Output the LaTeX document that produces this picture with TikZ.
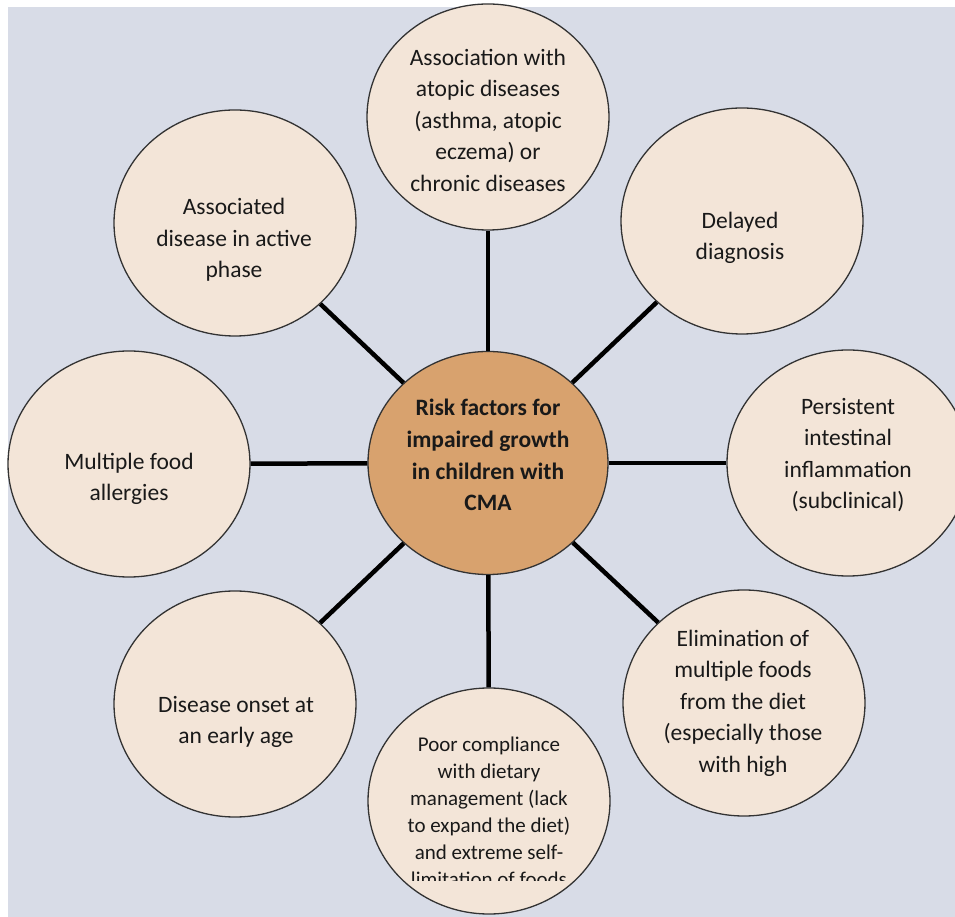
\documentclass[tikz,border=0pt]{standalone}
\usepackage{fontspec}
\setmainfont{Carlito}
\usetikzlibrary{shapes.geometric}
\definecolor{paneblue}{HTML}{D8DCE7}
\definecolor{bubblebeige}{HTML}{F3E5D8}
\definecolor{hubtan}{HTML}{D8A26E}
\begin{document}
\begin{tikzpicture}[x=1pt, y=1pt, line join=round, font=\fontsize{23.5}{31.5}\selectfont]
				\tikzset{bubble/.style={ellipse, draw=black!80, line width=1.3pt, fill=bubblebeige, minimum width=242pt, minimum height=226pt, inner sep=0pt},
					hub/.style={bubble, fill=hubtan, minimum width=240pt, minimum height=223pt},
					txt/.style={align=center, text=black!90, inner sep=0pt},
					spoke/.style={line width=4.5pt, line cap=butt}}
				\useasboundingbox (-488,-454) rectangle (467,463);
				\fill[white] (-488,-454) rectangle (467,463);
				\fill[paneblue] (-480,-454) rectangle (467,456);
				% the eight outer bubbles and the hub
				\node[hub] (risk) at (0,0) {};
				\node[bubble] (atopic) at (0,346) {};
				\node[bubble] (delayed) at (254,242) {};
				\node[bubble] (persist) at (360,0) {};
				\node[bubble] (elim) at (256,-240) {};
				\node[bubble] (poor) at (1,-338) {};
				\node[bubble] (onset) at (-253,-241) {};
				\node[bubble] (multi) at (-359,-1) {};
				\node[bubble] (assoc) at (-253,240) {};
				\foreach\n in {atopic,delayed,persist,elim,poor,onset,multi,assoc} \draw[spoke] (risk)--(\n);
				% texts
				\node[txt, font=\fontsize{23.5}{31.7}\selectfont\bfseries] (risk-t) at (0,8) {Risk factors for\\impaired growth\\in children with\\CMA};
				\node[txt] (atopic-t) at (0,343) {Association with\\atopic diseases\\(asthma, atopic\\eczema) or\\chronic diseases};
				\node[txt] (delayed-t) at (252,225) {Delayed\\diagnosis};
				\node[txt] (persist-t) at (360,8) {Persistent\\intestinal\\inflammation\\(subclinical)};
				\node[txt] (elim-t) at (255,-240) {Elimination of\\multiple foods\\from the diet\\(especially those\\with high};
				\node[txt] (onset-t) at (-252,-259) {Disease onset at\\an early age};
				\node[txt] (multi-t) at (-359,-16) {Multiple food\\allergies};
				\node[txt] (assoc-t) at (-254,223) {Associated\\disease in active\\phase};
				\begin{scope}
					\clip (-200,-417) rectangle (200,-240);
					\node[txt, font=\fontsize{21}{27}\selectfont] (poor-t) at (1,-349) {Poor compliance\\with dietary\\management (lack\\to expand the diet)\\and extreme self-\\limitation of foods};
				\end{scope}
			\end{tikzpicture}
\end{document}
